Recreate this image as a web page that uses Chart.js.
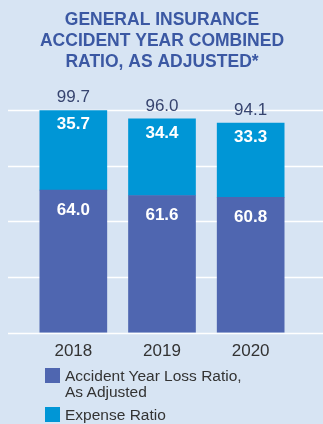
<!DOCTYPE html>
<html>
<head>
<meta charset="utf-8">
<script src="https://cdn.jsdelivr.net/npm/chart.js@4.4.1/dist/chart.umd.min.js"></script>
<style>
  html, body { margin: 0; padding: 0; background: #d7e4f3; }
  #wrap { position: relative; width: 323px; height: 424px; }
  canvas { display: block; }
  #legend {
    position: absolute; left: 45px; top: 368px; width: 205px;
    font-family: "Liberation Sans", Arial, sans-serif; font-size: 15.5px;
    color: #333333; line-height: 16px;
  }
  .item { display: flex; align-items: flex-start; margin-bottom: 7px; }
  .box { width: 15px; height: 15px; margin-right: 5px; flex: none; }
</style>
</head>
<body>
<div id="wrap">
  <canvas id="chart" width="323" height="424"></canvas>
  <div id="legend"></div>
</div>
<script>
// chart data
const years = ['2018', '2019', '2020'];
const lossRatio = [64.0, 61.6, 60.8];
const expenseRatio = [35.7, 34.4, 33.3];
const totals = [99.7, 96.0, 94.1];
const seriesNames = ['Accident Year Loss Ratio, As Adjusted', 'Expense Ratio'];
const titleLines = ['GENERAL INSURANCE', 'ACCIDENT YEAR COMBINED', 'RATIO, AS ADJUSTED*'];

const colors = ['#4f66b0', '#0096d6'];
const FONT = '"Liberation Sans", Arial, sans-serif';

// light blue panel behind everything
const background = {
  id: 'background',
  beforeDraw(chart) {
    const ctx = chart.ctx;
    ctx.save();
    ctx.fillStyle = '#d7e4f3';
    ctx.fillRect(0, 0, chart.width, chart.height);
    ctx.restore();
  }
};

// white gridlines run wider than the plot area
const wideGrid = {
  id: 'wideGrid',
  beforeDatasetsDraw(chart) {
    const ctx = chart.ctx;
    const y = chart.scales.y;
    ctx.save();
    ctx.strokeStyle = '#ffffff';
    ctx.lineWidth = 1.5;
    y.ticks.forEach(t => {
      const py = Math.round(y.getPixelForValue(t.value)) + 0.5;
      ctx.beginPath();
      ctx.moveTo(8, py);
      ctx.lineTo(chart.width, py);
      ctx.stroke();
    });
    ctx.restore();
  }
};

// segment values inside bars and totals above
const valueLabels = {
  id: 'valueLabels',
  afterDatasetsDraw(chart) {
    const ctx = chart.ctx;
    ctx.save();
    ctx.textAlign = 'center';
    ctx.textBaseline = 'middle';
    chart.data.datasets.forEach((ds, i) => {
      const meta = chart.getDatasetMeta(i);
      meta.data.forEach((bar, j) => {
        ctx.fillStyle = '#ffffff';
        ctx.font = 'bold 17px ' + FONT;
        ctx.fillText(ds.data[j].toFixed(1), bar.x, bar.y + (i === 0 ? 20 : 14));
      });
    });
    const top = chart.getDatasetMeta(chart.data.datasets.length - 1);
    top.data.forEach((bar, j) => {
      ctx.fillStyle = '#37446f';
      ctx.font = '17px ' + FONT;
      ctx.fillText(totals[j].toFixed(1), bar.x, bar.y - 13);
    });
    ctx.restore();
  }
};

new Chart(document.getElementById('chart'), {
  type: 'bar',
  data: {
    labels: years,
    datasets: [
      { label: seriesNames[0], data: lossRatio, backgroundColor: colors[0] },
      { label: seriesNames[1], data: expenseRatio, backgroundColor: colors[1] }
    ]
  },
  options: {
    responsive: false,
    animation: false,
    barThickness: 67,
    layout: { padding: { left: 29, right: 28, top: 0, bottom: 53 } },
    plugins: {
      legend: { display: false },
      tooltip: { enabled: false },
      title: {
        display: true,
        text: titleLines,
        color: '#3b58a3',
        font: { family: FONT, size: 17.5, weight: 'bold', lineHeight: 1.2 },
        padding: { top: 10, bottom: 37 }
      }
    },
    scales: {
      x: {
        stacked: true,
        grid: { display: false, drawTicks: false, tickLength: 0 },
        border: { display: false },
        ticks: { color: '#333333', font: { family: FONT, size: 17 }, padding: 9 }
      },
      y: {
        display: false,
        stacked: true,
        min: 0,
        max: 100,
        ticks: { stepSize: 25 }
      }
    }
  },
  plugins: [background, wideGrid, valueLabels]
});

// legend as plain text under the chart
const legend = document.getElementById('legend');
seriesNames.forEach((name, i) => {
  const item = document.createElement('div');
  item.className = 'item';
  const box = document.createElement('div');
  box.className = 'box';
  box.style.background = colors[i];
  const text = document.createElement('div');
  text.textContent = name;
  item.appendChild(box);
  item.appendChild(text);
  legend.appendChild(item);
});
</script>
</body>
</html>
